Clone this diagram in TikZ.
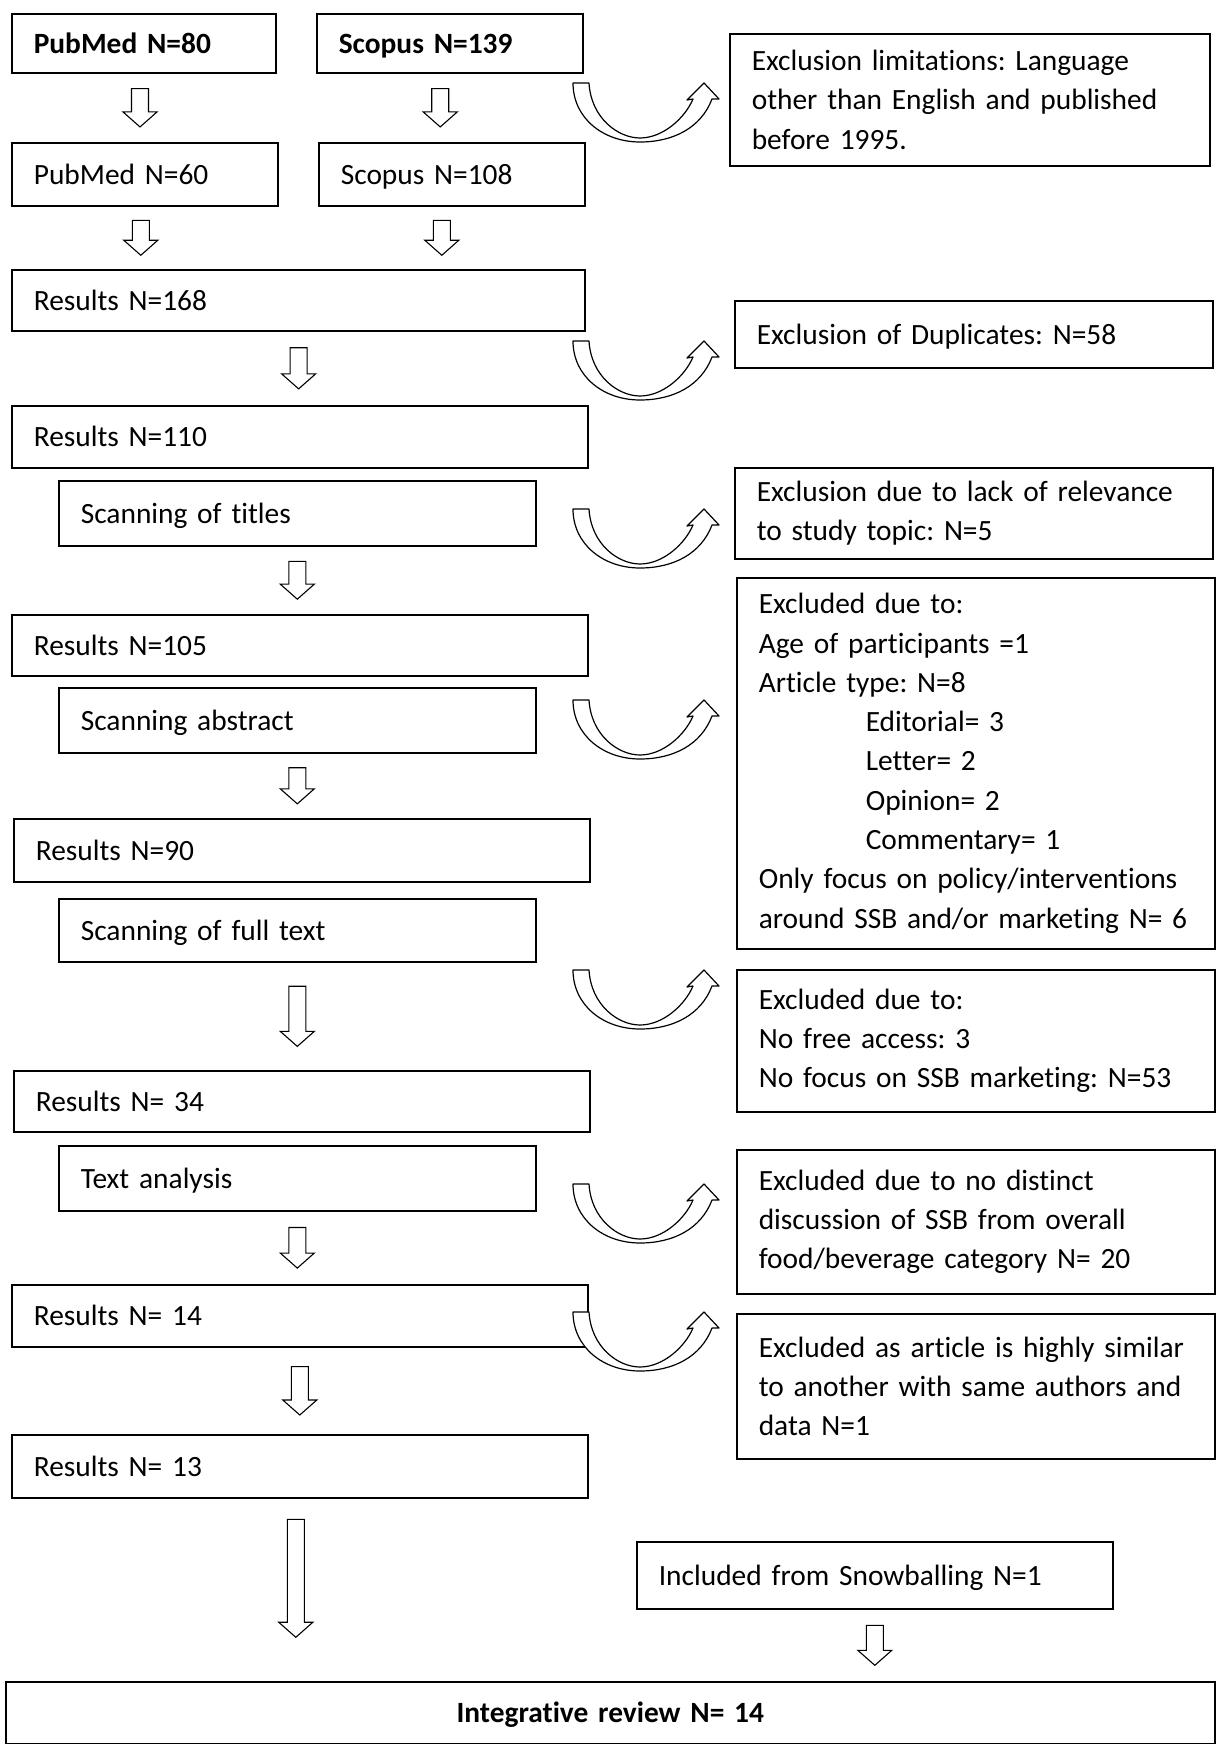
\documentclass[tikz,border=0pt]{standalone}
\usepackage{fontspec}
\setmainfont{Carlito}[Ligatures=NoCommon]
\usetikzlibrary{calc}
\frenchspacing
\newcommand{\boxfont}{\fontsize{29.4}{39.3}\selectfont}
\tikzset{
  box/.style={
    draw=black, line width=1.6pt, anchor=north west,
    align=left, inner xsep=22pt, inner ysep=0pt,
    font=\boxfont,
  },
  oneline/.style={text height=23pt, text depth=3pt},
  blk/.style={
    draw=black, line width=1.1pt, fill=white, line join=miter,
    to path={
      let \p1=($(\tikztostart)!#1!(\tikztotarget)$),
          \p2=($(\tikztostart)!1-#1!(\tikztotarget)$) in
      (\x1-8.5pt,\y1) -- (\x1+8.5pt,\y1) -- (\x1+8.5pt,\y2+15pt)
      -- (\x1+17pt,\y2+15pt) -- (\x1,\y2) -- (\x1-17pt,\y2+15pt)
      -- (\x1-8.5pt,\y2+15pt) -- cycle
    },
  },
  blk/.default=0.22,
  uturn/.pic={
    \draw[line width=1.2pt, fill=white, line join=round]
      (0,0) -- (16,0) .. controls (18,35) and (45,55) .. (67,55)
      .. controls (90,55) and (112,35) .. (120,16) -- (114,17) -- (131,0)
      -- (146,16) -- (139,16) .. controls (128,45) and (100,59) .. (67,59)
      .. controls (30,59) and (0,35) .. (0,0) -- cycle;
  },
}

\begin{document}
\begin{tikzpicture}[x=1pt, y=-1pt]
\useasboundingbox (0,0) rectangle (1222,1744);

\node[box, oneline, text width=220pt, minimum height=59pt] (pub80) at (11,13) {\textbf{PubMed N=80}};
\node[box, oneline, text width=222pt, minimum height=59pt] (sco139) at (316,13) {\textbf{Scopus N=139}};
\node[box, text width=436pt, minimum height=132pt] (exlim) at (729,33) {Exclusion limitations: Language\\other than English and published\\before 1995.};
\node[box, oneline, text width=222pt, minimum height=63pt] (pub60) at (11,142) {PubMed N=60};
\node[box, oneline, text width=222pt, minimum height=63pt] (sco108) at (318,142) {Scopus N=108};
\node[box, oneline, text width=529pt, minimum height=61pt] (res168) at (11,269) {Results N=168};
\node[box, oneline, text width=434pt, minimum height=67pt] (exdup) at (734,300) {Exclusion of Duplicates: N=58};
\node[box, oneline, text width=532pt, minimum height=62pt] (res110) at (11,405) {Results N=110};
\node[box, oneline, text width=433pt, minimum height=65pt] (titles) at (58,480) {Scanning of titles};
\node[box, text width=434pt, minimum height=91pt] (exrel) at (734,467) {Exclusion due to lack of relevance\\to study topic: N=5};
\node[box, oneline, text width=532pt, minimum height=61pt] (res105) at (11,614) {Results N=105};
\node[box, oneline, text width=433pt, minimum height=65pt] (abstr) at (58,687) {Scanning abstract};
\node[box, text width=434pt, minimum height=371pt] (exbig) at (736,577) {Excluded due to:\\Age of participants =1\\Article type: N=8\\\hspace*{107pt}Editorial= 3\\\hspace*{107pt}Letter= 2\\\hspace*{107pt}Opinion= 2\\\hspace*{107pt}Commentary= 1\\\mbox{Only focus on policy/interventions}\\\mbox{around SSB and/or marketing N= 6}};
\node[box, oneline, text width=532pt, minimum height=63pt] (res90) at (13,818) {Results N=90};
\node[box, oneline, text width=433pt, minimum height=63pt] (fulltxt) at (58,898) {Scanning of full text};
\node[box, text width=434pt, minimum height=142pt] (exfree) at (736,969) {Excluded due to:\\No free access: 3\\No focus on SSB marketing: N=53};
\node[box, oneline, text width=532pt, minimum height=61pt] (res34) at (13,1070) {Results N= 34};
\node[box, oneline, text width=433pt, minimum height=65pt] (textan) at (58,1145) {Text analysis};
\node[box, text width=434pt, minimum height=144pt] (exdist) at (736,1149) {Excluded due to no distinct\\discussion of SSB from overall\\food/beverage category N= 20};
\node[box, oneline, text width=532pt, minimum height=62pt] (res14) at (11,1284) {Results N= 14};
\node[box, text width=434pt, minimum height=145pt] (exsim) at (736,1313) {\mbox{Excluded as article is highly similar}\\to another with same authors and\\data N=1};
\node[box, oneline, text width=532pt, minimum height=63pt] (res13) at (11,1434) {Results N= 13};
\node[box, oneline, text width=432pt, minimum height=67pt] (snow) at (636,1541) {Included from Snowballing N=1};
\node[box, oneline, text width=1165pt, minimum height=62pt, align=center] (final) at (5,1681) {\textbf{Integrative review N= 14}};
\coordinate (longend) at ($(res13.south |- final.north)+(0,-23)$);

\draw[blk] ([xshift=-4pt]pub80.south) to ([xshift=-4pt]pub60.north);
\draw[blk] ([xshift=-10pt]sco139.south) to ([xshift=-10pt]sco108.north);
\draw[blk] ([xshift=-4pt]pub60.south) to ([xshift=-4pt]pub60.south |- res168.north);
\draw[blk] ([xshift=-10pt]sco108.south) to ([xshift=-10pt]sco108.south |- res168.north);
\draw[blk] (res168.south) to (res110.north);
\draw[blk] (titles.south) to (titles.south |- res105.north);
\draw[blk] (abstr.south) to (abstr.south |- res90.north);
\draw[blk] (fulltxt.south) to (fulltxt.south |- res34.north);
\draw[blk] (textan.south) to (textan.south |- res14.north);
\draw[blk] (res14.south) to (res13.north);
\draw[blk=0.13] ([xshift=-4pt]res13.south) to ([xshift=-4pt]longend);
\draw[blk] (snow.south) to (snow.south |- final.north);

\pic at (573,83) {uturn};
\pic at (573,341) {uturn};
\pic at (573,509) {uturn};
\pic at (573,700) {uturn};
\pic at (573,970) {uturn};
\pic at (573,1184) {uturn};
\pic at (573,1312) {uturn};

\end{tikzpicture}
\end{document}
